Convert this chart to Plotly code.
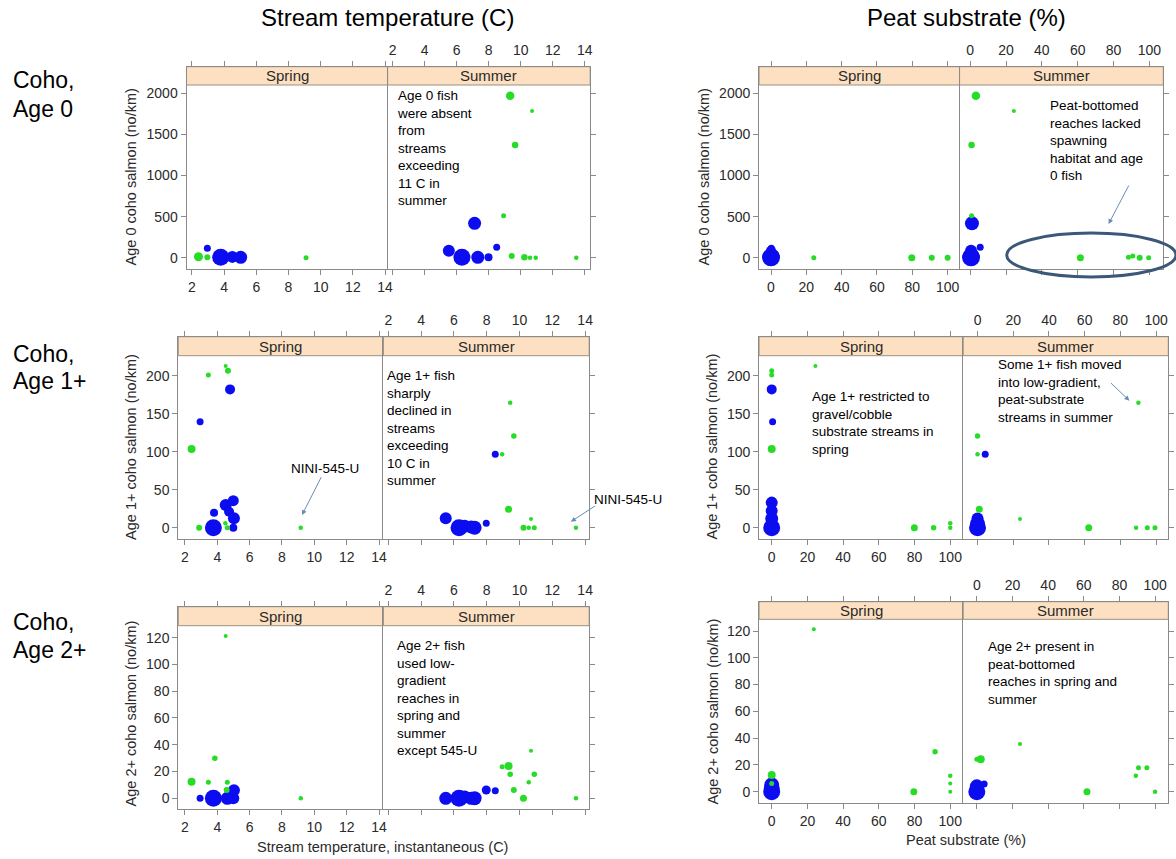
import plotly.graph_objects as go

W, H = 1176, 859

# ---------------- tick labels / categories ----------------
seasons = ["Spring", "Summer"]
temp_ticks = [2, 4, 6, 8, 10, 12, 14]
peat_ticks = [0, 20, 40, 60, 80, 100]
age0_ticks = [0, 500, 1000, 1500, 2000]
age1_ticks = [0, 50, 100, 150, 200]
age2_ticks = [0, 20, 40, 60, 80, 100, 120]

# ---------------- data: (x, density no/km, bubble size) ----------------
# Age 0 vs stream temperature
t0_spring_blue = [(2.96, 114, 7), (3.79, 5, 17), (4.51, 10, 12), (5.03, 5, 13)]
t0_spring_green = [(2.41, 12, 9), (2.96, 5, 6), (9.09, 0, 5)]
t0_summer_blue = [(7.12, 418, 13), (5.51, 85, 12), (6.33, 5, 17), (7.32, 5, 13), (7.99, 5, 8), (8.50, 126, 7)]
t0_summer_green = [(9.34, 1971, 8.5), (10.71, 1785, 4), (9.65, 1371, 6.5), (8.93, 511, 5), (9.44, 20, 6),
                   (10.23, 5, 6.5), (10.58, 0, 4.5), (10.94, 0, 4.5), (13.47, 0, 4.5)]
# Age 0 vs peat substrate
p0_spring_blue = [(0, 5, 18), (0.3, 12, 16), (0, 85, 10), (0.2, 114, 7)]
p0_spring_green = [(24.2, 0, 5), (79.7, 0, 7), (91, 0, 6), (100, 0, 6)]
p0_summer_blue = [(1, 418, 14), (0.5, 5, 18), (0.5, 20, 16), (0.5, 85, 12), (5.6, 126, 7)]
p0_summer_green = [(3.2, 1971, 8.5), (24.4, 1785, 4), (0.8, 1371, 6.5), (0.8, 511, 5), (61.5, 0, 7),
                   (88.3, 5, 5), (90.7, 20, 5), (94.6, 0, 6), (99.6, 0, 5)]
# Age 1+ vs stream temperature
t1_spring_blue = [(4.79, 182, 10), (2.94, 139.5, 7), (3.80, 19.7, 8), (4.52, 29.9, 12), (4.99, 35.5, 11),
                  (4.73, 21, 10), (5.03, 12.3, 12), (3.76, 0, 17), (4.99, 0, 8)]
t1_spring_green = [(4.52, 212.8, 4), (4.66, 206.6, 6), (3.45, 201, 5), (2.41, 103.6, 8), (2.88, 0, 6),
                   (4.62, 0, 5), (4.50, 6, 4.5), (9.16, 0, 4.5)]
t1_summer_blue = [(5.50, 12.3, 12), (6.31, 0, 17), (6.65, 2, 13), (7.05, 1, 13), (7.26, 0, 14),
                  (7.97, 5.8, 7), (8.52, 96.6, 7)]
t1_summer_green = [(9.43, 164.5, 4.5), (9.65, 120.7, 5.5), (8.94, 96.6, 4.5), (9.33, 24.2, 7), (10.70, 11.4, 4),
                   (10.24, 0, 6), (10.56, 0, 4.5), (10.90, 0, 5), (13.44, 0, 4.5)]
# Age 1+ vs peat substrate
p1_spring_blue = [(0, 182, 10), (0.5, 139.5, 7), (0, 33, 12), (0, 22, 12), (0, 12, 13), (0, 0, 17)]
p1_spring_green = [(0, 206.6, 5), (0, 201, 5), (24.5, 212.8, 4), (0, 103.6, 8), (79.9, 0, 7),
                   (90.7, 0, 5.5), (100, 6, 4.5), (100, 0, 4.5)]
p1_summer_blue = [(4.3, 96.6, 7), (0, 12, 12), (0, 5, 15), (0, 0, 17)]
p1_summer_green = [(90.1, 164.5, 4.5), (0, 120.7, 5.5), (0, 96.6, 4.5), (1, 24.2, 7), (23.8, 11.4, 4),
                   (62.3, 0, 7), (88.8, 0, 4.5), (95.1, 0, 5), (99.4, 0, 5)]
# Age 2+ vs stream temperature
t2_spring_blue = [(2.94, 0, 7), (3.76, 0, 17), (4.62, 0, 13), (4.99, 0, 12), (5.03, 6, 12)]
t2_spring_green = [(4.52, 121.2, 4), (3.85, 29.9, 5.5), (2.41, 12.4, 8), (3.45, 11.9, 5), (4.62, 11.9, 5),
                   (4.58, 6.2, 6), (9.16, 0, 4.5)]
t2_summer_blue = [(5.50, 0, 13), (6.31, 0, 17), (6.65, 1, 13), (7.05, 0, 13), (7.26, 0, 14),
                  (7.97, 6.2, 9), (8.52, 5.7, 7)]
t2_summer_green = [(10.70, 35.5, 4), (8.94, 23.6, 5), (9.33, 24.1, 8), (9.43, 17.9, 5.5), (10.90, 17.9, 5.5),
                   (10.56, 11.9, 4.5), (9.65, 6.2, 6), (10.24, 0, 7), (13.44, 0, 4.5)]
# Age 2+ vs peat substrate
p2_spring_blue = [(0, 0, 17), (0, 5, 15), (0, 2, 16)]
p2_spring_green = [(23.6, 121.3, 4), (91.5, 29.9, 5.5), (100, 12, 4.5), (100, 6.2, 4), (100, 0, 4),
                   (79.6, 0, 7), (0, 12.4, 8), (0, 6.2, 5)]
p2_summer_blue = [(0, 0, 17), (0, 4, 14), (4.1, 5.7, 7)]
p2_summer_green = [(24.2, 35.6, 4), (2.2, 24.2, 8), (0, 24.2, 5), (61.8, 0, 7), (90.7, 17.9, 5),
                   (95.4, 17.9, 5), (89.2, 11.9, 4.5), (100, 0, 4.5)]

# ---------------- layout geometry (pixels) ----------------
BLUE = "#0c0cf0"
GREEN = "#27dc27"
FONT = "Liberation Sans, Arial, sans-serif"
AXC = "#8a8a8a"
TXT = "#2a2a2a"

panels = [
    dict(data=[(t0_spring_blue, t0_spring_green), (t0_summer_blue, t0_summer_green)], xt=temp_ticks, yt=age0_ticks,
         left=187.3, div=389.3, right=592.7, top=66.7, sb=85, bot=269.3,
         spx=(192.7, 2, 16.17), smx=(394.3, 2, 16.08), ym=(257.7, 0.0822)),
    dict(data=[(p0_spring_blue, p0_spring_green), (p0_summer_blue, p0_summer_green)], xt=peat_ticks, yt=age0_ticks,
         left=762.3, div=963.7, right=1168.3, top=66.7, sb=85, bot=269.3,
         spx=(774.3, 0, 1.774), smx=(974.3, 0, 1.8), ym=(257.7, 0.0822)),
    dict(data=[(t1_spring_blue, t1_spring_green), (t1_summer_blue, t1_summer_green)], xt=temp_ticks, yt=age1_ticks,
         left=179, div=385, right=591.7, top=336.7, sb=355.7, bot=539.3,
         spx=(185.7, 2, 16.25), smx=(390, 2, 16.47), ym=(527.7, 0.76)),
    dict(data=[(p1_spring_blue, p1_spring_green), (p1_summer_blue, p1_summer_green)], xt=peat_ticks, yt=age1_ticks,
         left=762.3, div=967.3, right=1173.3, top=336.7, sb=355.7, bot=539.3,
         spx=(775, 0, 1.793), smx=(981.7, 0, 1.793), ym=(527.7, 0.76)),
    dict(data=[(t2_spring_blue, t2_spring_green), (t2_summer_blue, t2_summer_green)], xt=temp_ticks, yt=age2_ticks,
         left=179, div=385, right=591.7, top=606.7, sb=625.7, bot=809.3,
         spx=(185.7, 2, 16.25), smx=(390, 2, 16.47), ym=(798.3, 1.339)),
    dict(data=[(p2_spring_blue, p2_spring_green), (p2_summer_blue, p2_summer_green)], xt=peat_ticks, yt=age2_ticks,
         left=762.3, div=967.3, right=1173.3, top=601.7, sb=619.3, bot=803.3,
         spx=(775, 0, 1.793), smx=(981, 0, 1.79), ym=(791.7, 1.339)),
]


def px(x):
    return x / W


def py(y):
    return 1 - y / H


fig = go.Figure()
layout = {}
shapes = []
annotations = []

idx = 0
for p in panels:
    for s, season in enumerate(seasons):
        idx += 1
        xa = "x" if idx == 1 else f"x{idx}"
        ya = "y" if idx == 1 else f"y{idx}"
        xk = "xaxis" if idx == 1 else f"xaxis{idx}"
        yk = "yaxis" if idx == 1 else f"yaxis{idx}"
        x0px, x1px = (p["left"], p["div"]) if s == 0 else (p["div"], p["right"])
        mx = p["spx"] if s == 0 else p["smx"]
        xr = [mx[1] + (x0px - mx[0]) / mx[2], mx[1] + (x1px - mx[0]) / mx[2]]
        y0p, yppu = p["ym"]
        yr = [(y0p - p["bot"]) / yppu, (y0p - p["top"]) / yppu]
        blue, green = p["data"][s]
        for pts, col in ((blue, BLUE), (green, GREEN)):
            fig.add_trace(go.Scatter(
                x=[q[0] for q in pts], y=[q[1] for q in pts], mode="markers",
                marker=dict(size=[q[2] for q in pts], color=col, line=dict(width=0), opacity=1),
                xaxis=xa, yaxis=ya, showlegend=False, hoverinfo="skip", cliponaxis=False))
        layout[xk] = dict(
            domain=[px(x0px), px(x1px)], range=xr, anchor=ya,
            side="bottom" if s == 0 else "top",
            tickvals=p["xt"], ticktext=[str(v) for v in p["xt"]],
            ticks="outside", ticklen=5, tickcolor=AXC, tickwidth=1,
            showline=True, linecolor=AXC, linewidth=1, mirror="ticks",
            showgrid=False, zeroline=False, fixedrange=True,
            tickfont=dict(family=FONT, size=14, color=TXT))
        layout[yk] = dict(
            domain=[py(p["bot"]), py(p["top"])], range=yr, anchor=xa,
            side="left" if s == 0 else "right",
            tickvals=p["yt"], ticktext=[str(v) for v in p["yt"]],
            showticklabels=(s == 0),
            ticks="outside", ticklen=5, tickcolor=AXC, tickwidth=1,
            showline=True, linecolor=AXC, linewidth=1, mirror=(s == 1),
            showgrid=False, zeroline=False, fixedrange=True,
            tickfont=dict(family=FONT, size=14, color=TXT))
        # strip
        frac = (p["bot"] - p["sb"]) / (p["bot"] - p["top"])
        shapes.append(dict(type="rect", xref=f"{xa} domain", yref=f"{ya} domain",
                           x0=0, x1=1, y0=frac, y1=1, fillcolor="#fde0c1",
                           line=dict(color="#9a9080", width=1), layer="below"))
        annotations.append(dict(text=season, xref="paper", yref="paper",
                                x=px((x0px + x1px) / 2), y=py((p["top"] + p["sb"]) / 2),
                                xanchor="center", yanchor="middle", showarrow=False,
                                font=dict(family=FONT, size=15, color=TXT)))


def label(text, x, y, size, xanchor="left", yanchor="middle", angle=0, color="#000000"):
    annotations.append(dict(text=text, xref="paper", yref="paper", x=px(x), y=py(y),
                            xanchor=xanchor, yanchor=yanchor, showarrow=False, textangle=angle,
                            align="left", font=dict(family=FONT, size=size, color=color)))


# column titles
label("Stream temperature (C)", 389.6, 18, 24, xanchor="center")
label("Peat substrate (%)", 971, 18, 24, xanchor="center")
# row labels
for (a, b), (ya, yb) in zip([("Coho,", "Age 0"), ("Coho,", "Age 1+"), ("Coho,", "Age 2+")],
                            [(80.5, 109), (354.3, 381.3), (622, 650)]):
    label(a, 11, ya, 23)
    label(b, 11, yb, 23)
# y titles
label("Age 0 coho salmon (no/km)", 132, 177, 14.5, xanchor="center", angle=-90, color=TXT)
label("Age 0 coho salmon (no/km)", 707.4, 177, 14.5, xanchor="center", angle=-90, color=TXT)
label("Age 1+ coho salmon (no/km)", 132, 446.5, 14.5, xanchor="center", angle=-90, color=TXT)
label("Age 1+ coho salmon (no/km)", 716, 446.5, 14.5, xanchor="center", angle=-90, color=TXT)
label("Age 2+ coho salmon (no/km)", 132, 713, 14.5, xanchor="center", angle=-90, color=TXT)
label("Age 2+ coho salmon (no/km)", 716, 711.5, 14.5, xanchor="center", angle=-90, color=TXT)
# x titles
label("Stream temperature, instantaneous (C)", 384.6, 846.7, 14.5, xanchor="center", color=TXT)
label("Peat substrate (%)", 970, 840, 14.5, xanchor="center", color=TXT)

# panel notes
NOTE = 13.5
label("Age 0 fish<br>were absent<br>from<br>streams<br>exceeding<br>11 C in<br>summer", 397, 85.5, NOTE, yanchor="top")
label("Peat-bottomed<br>reaches lacked<br>spawning<br>habitat and age<br>0 fish", 1052, 95.5, NOTE, yanchor="top")
label("Age 1+ fish<br>sharply<br>declined in<br>streams<br>exceeding<br>10 C in<br>summer", 386.5, 366, NOTE, yanchor="top")
label("Age 1+ restricted to<br>gravel/cobble<br>substrate streams in<br>spring", 813, 387, NOTE, yanchor="top")
label("Some 1+ fish moved<br>into low-gradient,<br>peat-substrate<br>streams in summer", 1000.5, 355.5, NOTE, yanchor="top")
label("Age 2+ fish<br>used low-<br>gradient<br>reaches in<br>spring and<br>summer<br>except 545-U", 397, 636, NOTE, yanchor="top")
label("Age 2+ present in<br>peat-bottomed<br>reaches in spring and<br>summer", 990, 637, NOTE, yanchor="top")
label("NINI-545-U", 290.5, 468.3, NOTE)
label("NINI-545-U", 594.5, 499, NOTE)

# arrows (head at x, y; tail offset ax, ay in px)
ARC = "#6a8cb3"
for hx, hy, tx, ty in [(1113.3, 224, 1134.3, 184), (303.3, 515, 323.3, 475.7),
                       (573.3, 521.7, 599, 505), (1134.3, 400.7, 1114.3, 381.7)]:
    annotations.append(dict(text="", xref="paper", yref="paper", x=px(hx), y=py(hy),
                            ax=tx - hx, ay=ty - hy, showarrow=True, arrowhead=2, arrowsize=1,
                            arrowwidth=1, arrowcolor=ARC, standoff=0))

# ellipse around peat-bottomed reaches
shapes.append(dict(type="circle", xref="paper", yref="paper", x0=px(1011), x1=px(1181),
                   y0=py(277), y1=py(233), line=dict(color="#3b5878", width=3), layer="above"))

fig.update_layout(**layout)
fig.update_layout(width=W, height=H, margin=dict(l=0, r=0, t=0, b=0),
                  paper_bgcolor="white", plot_bgcolor="white",
                  shapes=shapes, annotations=annotations, showlegend=False,
                  font=dict(family=FONT))

fig.write_html("out.html")
